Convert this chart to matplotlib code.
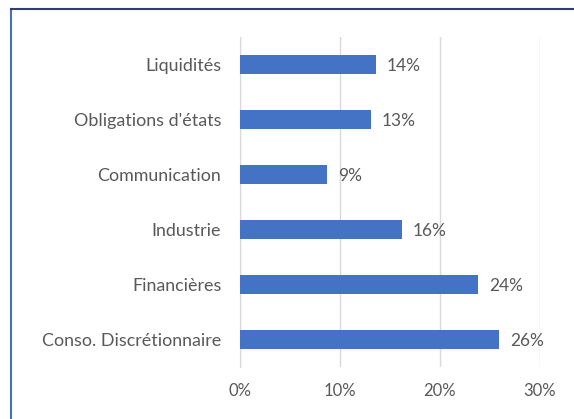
import matplotlib
matplotlib.use("Agg")
import matplotlib.pyplot as plt
from matplotlib.lines import Line2D

# data (top to bottom as shown)
categories = ["Liquidités", "Obligations d'états", "Communication",
              "Industrie", "Financières", "Conso. Discrétionnaire"]
values = [13.6, 13.1, 8.7, 16.2, 23.8, 25.9]
labels = ["14%", "13%", "9%", "16%", "24%", "26%"]
xticks = [0, 10, 20, 30]
xtick_labels = ["0%", "10%", "20%", "30%"]

plt.rcParams['font.family'] = ['Lato', 'DejaVu Sans']
text_col = '#595959'

W, H = 574, 419
fig = plt.figure(figsize=(W / 100, H / 100), dpi=100)
ax = fig.add_axes([240 / W, 1 - 367 / H, 300 / W, 330 / H])

y = list(range(len(categories)))
ax.barh(y, values, height=0.35, color='#4472C4', zorder=3)
for yi, v, lab in zip(y, values, labels):
    ax.text(v + 1.1, yi + 0.03, lab, va='center', ha='left', fontsize=12.5,
            color=text_col)

ax.set_xlim(0, 30)
ax.set_ylim(len(categories) - 0.5, -0.5)
ax.set_yticks(y)
ax.set_yticklabels(categories, fontsize=12.9, color=text_col)
ax.set_xticks(xticks)
ax.set_xticklabels(xtick_labels, fontsize=12, color=text_col)
ax.tick_params(axis='both', length=0)
ax.tick_params(axis='y', pad=13.5)
ax.tick_params(axis='x', pad=11.5)
ax.grid(axis='x', color='#D9D9D9', linewidth=1, zorder=0)
for s in ['top', 'right', 'bottom']:
    ax.spines[s].set_visible(False)
ax.spines['left'].set_color('#D9D9D9')

# frame around the chart area (cut at right and bottom)
fig.add_artist(Line2D([11 / W, 11 / W], [1 - 9.5 / H, 0], color='#4A6FB5',
                      linewidth=1.5, transform=fig.transFigure))
fig.add_artist(Line2D([11 / W, 1], [1 - 9.5 / H, 1 - 9.5 / H],
                      color='#2F3F70', linewidth=1.5,
                      transform=fig.transFigure))

fig.savefig("out.png", dpi=100)
